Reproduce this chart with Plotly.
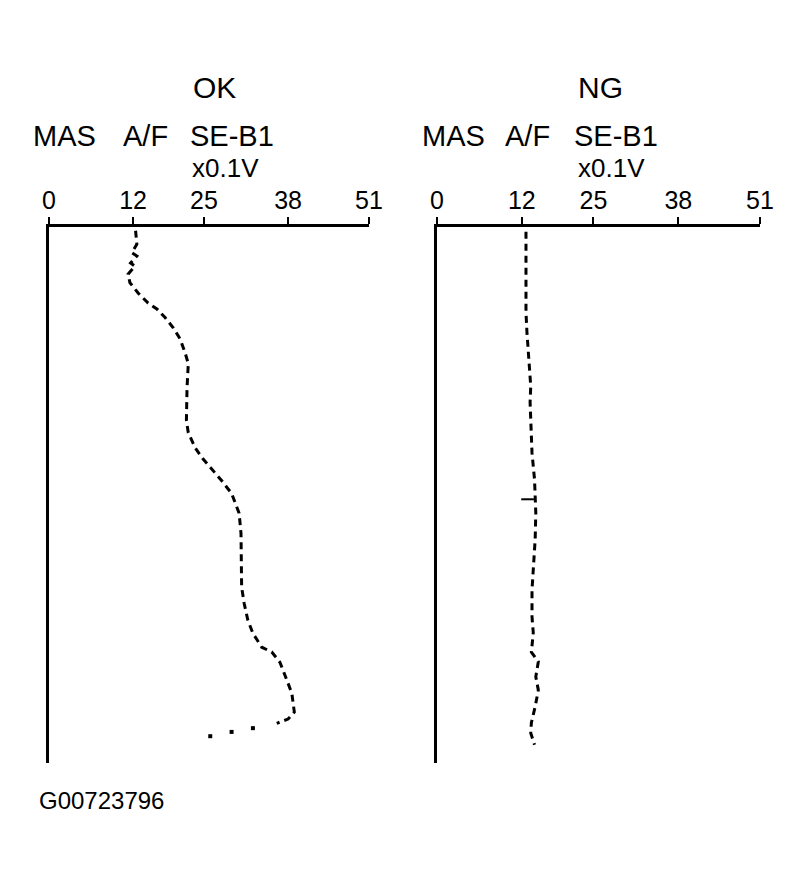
import plotly.graph_objects as go

# ---- data ----
tick_positions = [0, 13.4, 24.7, 38.1, 51]
tick_labels = ["0", "12", "25", "38", "51"]

# OK panel: time runs downward (0 = top, 100 = bottom)
ok_time = [0.7, 3.2, 4.8, 5.4, 6.7, 7.3, 8.8, 10.4, 12.3, 14.2, 15.3, 16.9, 18.8,
           20.9, 23.5, 25.5, 30.0, 36.1, 38.4, 41.2, 43.2, 45.1, 47.3, 49.7, 53.4,
           57.2, 62.8, 67.2, 70.2, 73.4, 75.8, 78.4, 79.3, 81.2, 84.5, 87.0, 90.5,
           91.8, 92.6]
ok_value = [13.8, 14.0, 13.2, 14.0, 13.0, 13.7, 12.6, 12.9, 14.2, 15.8, 17.2, 18.5,
            19.8, 20.9, 21.7, 22.2, 22.0, 21.9, 22.2, 23.3, 24.5, 25.9, 27.5, 29.1,
            30.3, 30.6, 30.7, 30.7, 31.1, 31.7, 32.5, 33.9, 35.5, 36.8, 37.9, 38.7,
            39.1, 38.1, 36.3]
ok_tail_time = [93.5, 94.2, 95.0]
ok_tail_value = [32.5, 29.1, 25.7]

# NG panel
ng_time = [0.9, 4.7, 11.0, 15.9, 19.6, 23.4, 27.1, 29.7, 32.7, 37.2, 42.1, 47.1,
           49.9, 50.8, 53.3, 58.3, 63.4, 67.7, 72.7, 75.7, 79.3, 81.1, 83.9, 86.4,
           89.5, 92.5, 94.4, 96.6]
ng_value = [14.05, 14.05, 14.05, 14.05, 14.2, 14.4, 14.7, 14.8, 14.7, 14.8, 15.0,
            15.4, 15.5, 15.5, 15.6, 15.5, 15.2, 15.0, 15.0, 15.2, 14.9, 16.0, 15.6,
            16.0, 15.5, 14.9, 14.8, 15.4]
ng_blip_time = [50.8, 50.8]
ng_blip_value = [13.3, 15.3]

FONT = "Liberation Sans, Arial, Helvetica, sans-serif"
W, H = 807, 885
OFF = 8  # page body margin


def px(x):
    return (x - OFF) / W


def py(y):
    return 1 - (y - OFF) / H


DASH = "7px,5px"
fig = go.Figure()
fig.add_trace(go.Scatter(x=ok_value, y=ok_time, mode="lines", xaxis="x", yaxis="y",
                         line=dict(color="black", width=3, dash=DASH)))
fig.add_trace(go.Scatter(x=ok_tail_value, y=ok_tail_time, mode="markers", xaxis="x", yaxis="y",
                         marker=dict(color="black", size=4, symbol="square")))
fig.add_trace(go.Scatter(x=ng_value, y=ng_time, mode="lines", xaxis="x2", yaxis="y2",
                         line=dict(color="black", width=3, dash=DASH)))
fig.add_trace(go.Scatter(x=ng_blip_value, y=ng_blip_time, mode="lines", xaxis="x2", yaxis="y2",
                         line=dict(color="black", width=2)))

ydom = [py(763), py(227)]


def xaxis(dom, anchor):
    return dict(domain=dom, range=[0, 51], side="top", anchor=anchor,
                showline=True, linewidth=3, linecolor="black",
                ticks="outside", ticklen=7, tickwidth=2, tickcolor="black",
                tickmode="array", tickvals=tick_positions, ticktext=tick_labels,
                tickfont=dict(family=FONT, size=25, color="black"),
                ticklabelstandoff=-2, automargin=False,
                showgrid=False, zeroline=False, fixedrange=True)


def yaxis(anchor):
    return dict(domain=ydom, range=[100, 0], anchor=anchor,
                showline=True, linewidth=3, linecolor="black",
                ticks="", showticklabels=False, automargin=False,
                showgrid=False, zeroline=False, fixedrange=True)


ann = []


def text(t, x, y, size):
    ann.append(dict(text=t, x=px(x), y=py(y), xref="paper", yref="paper",
                    xanchor="center", yanchor="middle", showarrow=False,
                    font=dict(family=FONT, size=size, color="black")))


# OK panel texts
text("OK", 214, 87, 30)
text("MAS", 64, 136, 29)
text("A/F", 145, 136, 29)
text("SE-B1", 232, 136, 29)
text("x0.1V", 225, 168, 26)
# NG panel texts
text("NG", 600, 87, 30)
text("MAS", 453, 136, 29)
text("A/F", 527, 136, 29)
text("SE-B1", 616, 136, 29)
text("x0.1V", 611, 168, 26)
# figure code
text("G00723796", 101, 800, 24)

fig.update_layout(
    width=W, height=H, autosize=False,
    margin=dict(l=0, r=0, t=0, b=0, pad=0),
    paper_bgcolor="white", plot_bgcolor="white",
    showlegend=False,
    xaxis=xaxis([px(49), px(369)], "y"),
    yaxis=yaxis("x"),
    xaxis2=xaxis([px(437), px(760)], "y2"),
    yaxis2=yaxis("x2"),
    annotations=ann,
)

fig.write_html("out.html")
